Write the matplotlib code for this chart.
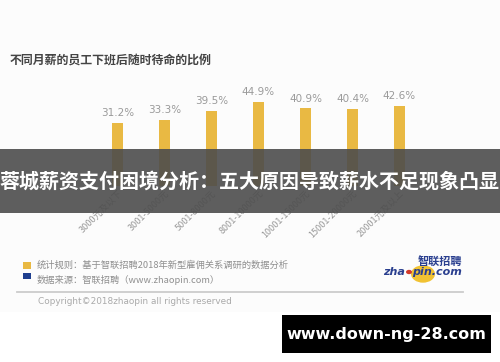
import matplotlib
matplotlib.use("Agg")
import matplotlib.pyplot as plt
from matplotlib.patches import Rectangle, Circle
import numpy as np

plt.rcParams["font.family"] = ["Noto Sans CJK SC", "DejaVu Sans"]

W, H = 500, 362

categories = ["3000元及以下", "3001-5000元", "5001-8000元", "8001-10000元",
              "10001-15000元", "15001-20000元", "20001元及以上"]
values = [31.2, 33.3, 39.5, 44.9, 40.9, 40.4, 42.6]

title = "不同月薪的员工下班后随时待命的比例"
banner = "蓉城薪资支付困境分析：五大原因导致薪水不足现象凸显"
note_rule = "统计规则：基于智联招聘2018年新型雇佣关系调研的数据分析"
note_src = "数据来源：智联招聘（www.zhaopin.com）"
copyright_txt = "Copyright©2018zhaopin all rights reserved"
watermark = "www.down-ng-28.com"

BAR_COLOR = "#e9b943"
BASE = -9.8


def fx(px):
    return px / W


def fy(py):
    return 1 - py / H


fig = plt.figure(figsize=(W / 100, H / 100), dpi=100)
fig.patch.set_facecolor("white")
fig.add_artist(Rectangle((0, fy(312)), 1, 1 - fy(312), transform=fig.transFigure,
                         facecolor="#fcfcfc", edgecolor="none", zorder=0))

# bar chart
ax = fig.add_axes([fx(94), fy(186), fx(423) - fx(94), fy(80) - fy(186)])
ax.set_facecolor("none")
x = np.arange(len(categories))
vals = np.array(values)
ax.bar(x, vals - BASE, bottom=BASE, width=0.22, color=BAR_COLOR)
for xi, v in zip(x, vals):
    ax.text(xi, v + 3.2, f"{v:.1f}%", ha="center", va="bottom",
            fontsize=7.5, color="#9a9a9a", family="DejaVu Sans")
ax.set_xlim(-0.5, len(categories) - 0.5)
ax.set_ylim(BASE, 59.5)
ax.set_xticks(x)
ax.set_xticklabels(categories, rotation=45, ha="right", rotation_mode="anchor",
                   fontsize=6.5, color="#999999")
ax.tick_params(axis="x", length=0, pad=2)
ax.set_yticks([])
for s in ax.spines.values():
    s.set_visible(False)

fig.text(fx(10), fy(60), title, fontsize=8.6, fontweight="bold",
         color="#444444", va="center", ha="left")

# dark banner
fig.add_artist(Rectangle((0, fy(213)), 1, fy(149) - fy(213), transform=fig.transFigure,
                         facecolor="#4d4d4d", alpha=0.9, edgecolor="none", zorder=5))
fig.text(0.5, fy(181), banner, fontsize=14.4, fontweight="bold", color="white",
         ha="center", va="center", zorder=6)

# footnotes
fig.add_artist(Rectangle((fx(23), fy(269)), fx(8), 7 / H, transform=fig.transFigure,
                         facecolor="#e9b943", edgecolor="none"))
fig.add_artist(Rectangle((fx(23), fy(279)), fx(8), 6 / H, transform=fig.transFigure,
                         facecolor="#1f3f8f", edgecolor="none"))
fig.text(fx(37), fy(265), note_rule, fontsize=6.7, color="#8f8f8f", va="center")
fig.text(fx(37), fy(280), note_src, fontsize=6.7, color="#8f8f8f", va="center")
fig.add_artist(plt.Line2D([fx(17), fx(463)], [fy(292), fy(292)],
                          transform=fig.transFigure, color="#cccccc", lw=1.3))
fig.text(fx(38), fy(302), copyright_txt, fontsize=6.4, color="#aaaaaa",
         va="center", family="DejaVu Sans")

# logo
fig.add_artist(Circle((fx(423), fy(274)), 12 / W, transform=fig.transFigure,
                      facecolor="#f1c232", edgecolor="none"))
fig.text(fx(440), fy(262), "智联招聘", fontsize=8, fontweight="bold",
         color="#2a3f8f", ha="center", va="center")
fig.text(fx(405), fy(272), "zha", fontsize=8, fontweight="bold", style="italic",
         color="#2a3f8f", ha="right", va="center", family="DejaVu Sans")
fig.add_artist(Circle((fx(409), fy(272)), 3 / W, transform=fig.transFigure,
                      facecolor="#d23a2a", edgecolor="none"))
fig.text(fx(412), fy(272), "pin.com", fontsize=8, fontweight="bold", style="italic",
         color="#2a3f8f", ha="left", va="center", family="DejaVu Sans")

# watermark box
fig.add_artist(Rectangle((fx(282), fy(353)), fx(491) - fx(282), fy(315) - fy(353),
                         transform=fig.transFigure, facecolor="black",
                         edgecolor="none", zorder=5))
fig.text(fx(386), fy(334), watermark, fontsize=11.5, fontweight="bold",
         color="white", ha="center", va="center", zorder=6, family="DejaVu Sans")

fig.savefig("out.png", dpi=100)
